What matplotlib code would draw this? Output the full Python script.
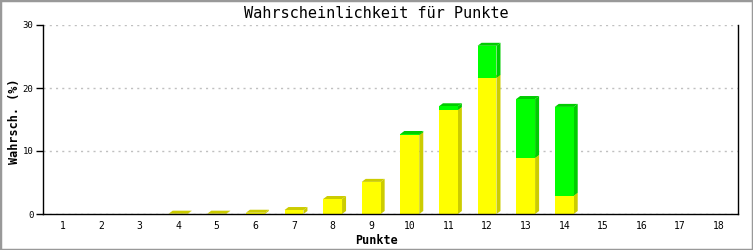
import matplotlib
matplotlib.use('Agg')
import matplotlib.pyplot as plt
from matplotlib.patches import Polygon, Rectangle

punkte = list(range(1, 19))
gelb = [0, 0, 0, 0.05, 0.05, 0.2, 0.63, 2.38, 5.1, 12.5, 16.5, 21.6, 8.9, 2.9, 0, 0, 0, 0]
gruen = [0, 0, 0, 0, 0, 0, 0, 0, 0, 0.2, 0.6, 5.1, 9.35, 14.1, 0, 0, 0, 0]

W, H = 753, 250
fig = plt.figure(figsize=(W / 100, H / 100), dpi=100)
L, R, B, T = 43, 738, 214, 25
ax = fig.add_axes([L / W, 1 - B / H, (R - L) / W, (B - T) / H])
ax.set_xlim(0.5, 18.5)
ax.set_ylim(0, 30)

# 3D-Versatz in Datenkoordinaten (4px rechts, 3px hoch)
dx = 4 / ((R - L) / 18)
dy = 3 / ((B - T) / 30)
bw = 0.49


def block(x, y0, y1, front, dark):
    if y1 <= 0:
        return
    xl, xr = x - bw / 2, x + bw / 2
    ax.add_patch(Polygon([(xr, y0), (xr + dx, y0 + dy), (xr + dx, y1 + dy), (xr, y1)],
                         closed=True, fc=dark, ec='none', zorder=3, clip_on=False))
    ax.add_patch(Polygon([(xl, y1), (xl + dx, y1 + dy), (xr + dx, y1 + dy), (xr, y1)],
                         closed=True, fc=dark, ec='none', zorder=3, clip_on=False))
    ax.add_patch(Rectangle((xl, y0), bw, y1 - y0, fc=front, ec='none', zorder=3))


for x, g, gr in zip(punkte, gelb, gruen):
    if g > 0:
        block(x, 0, g, '#ffff00', '#cccc00')
    if gr > 0:
        block(x, g, g + gr, '#00ff00', '#00cc00')

ax.spines['top'].set_visible(False)
for s in ['left', 'right', 'bottom']:
    ax.spines[s].set_color('black')
    ax.spines[s].set_linewidth(1)
    ax.spines[s].set_zorder(5)

ax.set_yticks([0, 10, 20, 30])
ax.set_xticks(punkte)
ax.tick_params(axis='y', length=5, width=1, direction='out', labelsize=6.5, pad=2)
ax.tick_params(axis='x', length=0, labelsize=7, pad=5)
for lab in ax.get_xticklabels() + ax.get_yticklabels():
    lab.set_family('DejaVu Sans Mono')
ax.grid(axis='y', color='#c0c0c0', linestyle=(0, (1.5, 3)), linewidth=1)
ax.set_axisbelow(True)

fig.text(0.5, 1 - 13 / H, 'Wahrscheinlichkeit für Punkte', ha='center', va='center',
         family='DejaVu Sans Mono', fontsize=11)
fig.text(0.5, 1 - 240 / H, 'Punkte', ha='center', va='center',
         family='DejaVu Sans Mono', fontweight='bold', fontsize=8.5)
fig.text(15 / W, 1 - 121 / H, 'Wahrsch. (%)', ha='center', va='center', rotation=90,
         family='DejaVu Sans Mono', fontweight='bold', fontsize=8.5)

fig.patches.append(Rectangle((0, 0), 1, 1, transform=fig.transFigure, fill=False,
                             ec='#999999', lw=2.5))
fig.savefig('out.png', dpi=100)
